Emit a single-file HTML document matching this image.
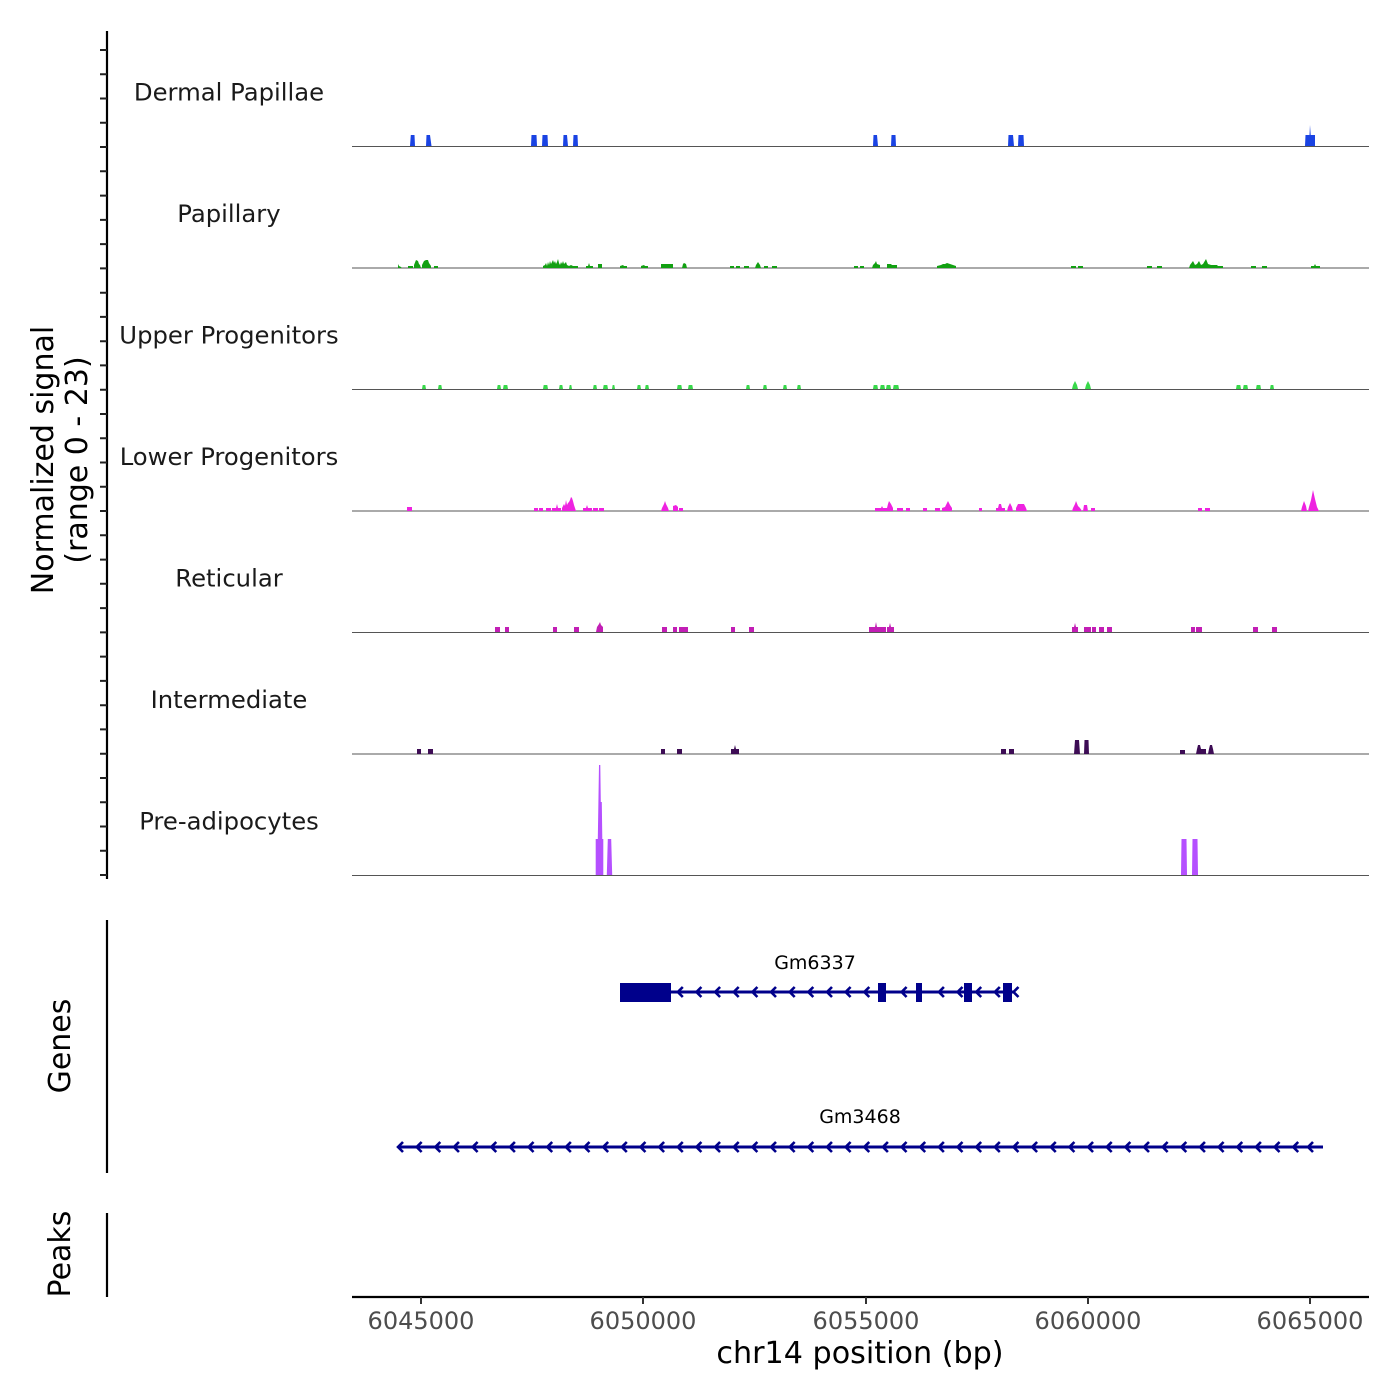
<!DOCTYPE html>
<html>
<head>
<meta charset="utf-8">
<style>
html,body{margin:0;padding:0;background:#fff;}
svg{display:block;}
text{font-family:"DejaVu Sans","Liberation Sans",sans-serif;}
</style>
</head>
<body>
<svg width="1400" height="1400" viewBox="0 0 1400 1400" xmlns="http://www.w3.org/2000/svg">
<rect width="1400" height="1400" fill="#fff"/>

<!-- left axis (signal) -->
<line x1="107" y1="31" x2="107" y2="879" stroke="#000" stroke-width="2.2"/>
<path stroke="#222" stroke-width="2" fill="none" d="
M100,50H107 M100,74.3H107 M100,98.5H107 M100,122.8H107 M100,147H107 M100,171.3H107 M100,195.6H107 M100,219.9H107 M100,244.1H107 M100,268.4H107
M100,292.7H107 M100,316.9H107 M100,341.2H107 M100,365.4H107 M100,389.7H107 M100,414H107 M100,438.2H107 M100,462.5H107 M100,486.8H107 M100,511H107
M100,535.3H107 M100,559.6H107 M100,583.8H107 M100,608.1H107 M100,632.4H107 M100,656.6H107 M100,680.9H107 M100,705.2H107 M100,729.4H107 M100,753.7H107
M100,778H107 M100,802.2H107 M100,826.5H107 M100,850.8H107 M100,875H107"/>

<!-- y title -->
<text transform="translate(53,460) rotate(-90)" text-anchor="middle" font-size="30" fill="#000">Normalized signal</text>
<text transform="translate(87,460) rotate(-90)" text-anchor="middle" font-size="30" fill="#000">(range 0 - 23)</text>

<!-- track labels -->
<g font-size="24.3" fill="#1a1a1a" text-anchor="middle">
<text x="229" y="100.5">Dermal Papillae</text>
<text x="229" y="222">Papillary</text>
<text x="229" y="343.5">Upper Progenitors</text>
<text x="229" y="465">Lower Progenitors</text>
<text x="229" y="586.5">Reticular</text>
<text x="229" y="708">Intermediate</text>
<text x="229" y="829.5">Pre-adipocytes</text>
</g>

<!-- baselines -->
<g stroke="#555" stroke-width="1">
<line x1="352" y1="146.5" x2="1369" y2="146.5"/>
<line x1="352" y1="268" x2="1369" y2="268"/>
<line x1="352" y1="389.5" x2="1369" y2="389.5"/>
<line x1="352" y1="511" x2="1369" y2="511"/>
<line x1="352" y1="632.5" x2="1369" y2="632.5"/>
<line x1="352" y1="754" x2="1369" y2="754"/>
<line x1="352" y1="875.5" x2="1369" y2="875.5"/>
</g>

<!-- Dermal Papillae -->
<path fill="#1a43e3" d="
M410,146 L410.8,135 L414.5,135 L415,146 Z
M426,146 L426.5,135 L430,135 L431.5,146 Z
M531,146 L531.5,135 L536.5,135 L537,146 Z
M542,146 L542.5,135 L547.5,135 L548,146 Z
M563,146 L563.5,135 L567,135 L568,146 Z
M573,146 L573.5,135 L577.5,135 L578,146 Z
M873,146 L873.5,135 L877,135 L878,146 Z
M891,146 L891.5,135 L895.5,135 L896,146 Z
M1008,146 L1008.5,135 L1013,135 L1014,146 Z
M1018,146 L1018.5,135 L1023.5,135 L1024,146 Z
M1305,146 L1305.5,135 L1309.5,135 L1310,125 L1310.7,135 L1315,135 L1315,146 Z"/>

<!-- Papillary -->
<path fill="#12a012" d="
M398,268 L398,264 L399,266 L401,267 L402,268 Z
M408,268 L408,266 L413,266 L413,268 Z
M414,268 L414,265 L416,260 L418,261 L419,264 L420,265 L421,268 Z
M422,268 L422,265 L424,261 L426,260 L428,260 L429,263 L431,266 L431,268 Z
M434,268 L434,266 L438,266 L438,268 Z
M543,268 L543,266 L545,265 L546,263 L547,266 L548,262 L549,265 L550,261 L551,264 L552,262 L553,260 L554,263 L555,261 L556,264 L557,262 L558,259 L559,263 L560,265 L561,262 L562,264 L563,261 L564,264 L566,262 L567,265 L569,266 L571,265 L573,266 L578,266 L578,268 Z
M586,268 L586,266 L588,266 L589,263 L590,266 L593,266 L593,268 Z
M598,268 L598,264 L602,264 L602,268 Z
M620,268 L620,266 L623,265 L624,266 L627,266 L627,268 Z
M641,268 L641,266 L644,265 L645,266 L648,266 L648,268 Z
M661,268 L661,264 L673,264 L673,268 Z
M682,268 L683,264 L684,263 L686,264 L687,268 Z
M730,268 L730,266 L734,266 L734,268 Z
M736,268 L736,266 L740,266 L740,268 Z
M744,268 L744,266 L749,266 L749,268 Z
M755,268 L756,265 L758,262 L760,265 L761,268 Z
M764,268 L764,266 L768,266 L768,268 Z
M772,268 L772,266 L777,266 L777,268 Z
M854,268 L854,266 L858,266 L858,268 Z
M860,268 L860,266 L864,266 L864,268 Z
M872,268 L873,265 L875,263 L876,261 L877,264 L880,265 L880,268 Z
M887,268 L887,264 L891,264 L892,265 L897,265 L897,268 Z
M937,268 L937,266 L941,265 L943,264 L945,264 L947,263 L950,264 L953,265 L956,266 L956,268 Z
M1071,268 L1071,266 L1076,266 L1076,268 Z
M1078,268 L1078,266 L1083,266 L1083,268 Z
M1147,268 L1147,266 L1152,266 L1152,268 Z
M1157,268 L1157,266 L1162,266 L1162,268 Z
M1189,268 L1190,265 L1193,261 L1195,265 L1197,264 L1199,261 L1201,265 L1203,264 L1206,259 L1208,264 L1211,265 L1217,265 L1218,266 L1223,266 L1223,268 Z
M1251,268 L1251,266 L1256,266 L1256,268 Z
M1262,268 L1262,266 L1267,266 L1267,268 Z
M1311,268 L1311,266 L1314,266 L1315,264 L1316,266 L1320,266 L1320,268 Z"/>

<!-- Upper Progenitors -->
<path fill="#38d84a" d="
M422,389 L422.7,385 L425.3,385 L426,389 Z
M438,389 L438.7,385 L441.3,385 L442,389 Z
M497,389 L497.7,385 L500.3,385 L501,389 Z
M503,389 L503.7,385 L507.3,385 L508,389 Z
M543,389 L543.7,385 L547.3,385 L548,389 Z
M559,389 L559.7,385 L562.3,385 L563,389 Z
M569,389 L569.7,385 L571.3,385 L572,389 Z
M593,389 L593.7,385 L596.3,385 L597,389 Z
M603,389 L603.7,385 L607.3,385 L608,389 Z
M612,389 L612.7,385 L614.3,385 L615,389 Z
M637,389 L637.7,385 L640.3,385 L641,389 Z
M645,389 L645.7,385 L648.3,385 L649,389 Z
M677,389 L677.7,385 L681.3,385 L682,389 Z
M688,389 L688.7,385 L692.3,385 L693,389 Z
M746,389 L746.7,385 L749.3,385 L750,389 Z
M763,389 L763.7,385 L766.3,385 L767,389 Z
M783,389 L783.7,385 L786.3,385 L787,389 Z
M797,389 L797.7,385 L800.3,385 L801,389 Z
M873,389 L873.7,385 L877.3,385 L878,389 Z
M880,389 L880.7,385 L884.3,385 L885,389 Z
M886,389 L886.7,385 L890.3,385 L891,389 Z
M893,389 L893.7,385 L898.3,385 L899,389 Z
M1072,389 L1073,385 L1075,381 L1077,385 L1078,389 Z
M1085,389 L1086,385 L1088,381 L1090,385 L1091,389 Z
M1236,389 L1236.7,385 L1240.3,385 L1241,389 Z
M1243,389 L1243.7,385 L1247.3,385 L1248,389 Z
M1256,389 L1256.7,385 L1260.3,385 L1261,389 Z
M1270,389 L1270.7,385 L1273.3,385 L1274,389 Z"/>

<!-- Lower Progenitors -->
<path fill="#ee22e0" d="
M407,511 L407,507 L412,507 L412,511 Z
M534,511 L534,508 L538,508 L538,511 Z
M539,511 L539,508 L543,508 L543,511 Z
M546,511 L546,508 L551,508 L551,511 Z
M552,511 L552,508 L556,508 L557,504 L558,508 L561,508 L561,511 Z
M562,511 L562,508 L564,504 L565,506 L566,500 L567,505 L568,503 L569,502 L570,500 L571,497 L572,498 L573,501 L574,505 L575,508 L576,511 Z
M583,511 L583,508 L586,508 L587,505 L588,508 L592,508 L592,511 Z
M593,511 L593,508 L598,508 L598,511 Z
M599,511 L599,508 L604,508 L604,511 Z
M661,511 L662,508 L664,504 L665,501 L666,504 L668,508 L669,511 Z
M673,511 L673,506 L676,505 L678,507 L678,511 Z
M679,511 L679,508 L683,508 L683,511 Z
M875,511 L875,508 L881,508 L882,506 L883,508 L887,508 L888,504 L889,501 L891,504 L893,508 L893,511 Z
M897,511 L897,508 L903,508 L903,511 Z
M906,511 L906,508 L910,508 L910,511 Z
M923,511 L923,508 L927,508 L927,511 Z
M935,511 L935,508 L940,508 L940,511 Z
M942,511 L942,508 L945,507 L947,503 L948,501 L950,505 L952,508 L952,511 Z
M979,511 L979,508 L982,508 L982,511 Z
M996,511 L996,508 L998,508 L999,504 L1001,504 L1002,508 L1005,508 L1005,511 Z
M1007,511 L1008,507 L1010,503 L1012,507 L1013,511 Z
M1016,511 L1016,508 L1018,504 L1024,504 L1026,508 L1027,511 Z
M1072,511 L1073,508 L1075,504 L1076,501 L1078,506 L1080,508 L1082,511 Z
M1083,511 L1084,505 L1087,505 L1088,511 Z
M1091,511 L1091,508 L1095,508 L1095,511 Z
M1198,511 L1198,508 L1202,508 L1202,511 Z
M1205,511 L1205,508 L1210,508 L1210,511 Z
M1301,511 L1302,507 L1304,501 L1306,506 L1307,511 Z
M1308,511 L1309,507 L1311,500 L1313,490 L1315,499 L1317,507 L1319,511 Z"/>

<!-- Reticular -->
<path fill="#c21eb5" d="
M495,632 L495,627 L500,627 L500,632 Z
M505,632 L505,627 L509,627 L509,632 Z
M553,632 L553,627 L557,627 L557,632 Z
M574,632 L574,627 L579,627 L579,632 Z
M596,632 L597,627 L599,624 L600,622 L601,625 L603,627 L603,632 Z
M662,632 L662,627 L667,627 L667,632 Z
M673,632 L673,627 L677,627 L677,632 Z
M679,632 L679,627 L688,627 L688,632 Z
M731,632 L731,627 L735,627 L735,632 Z
M749,632 L749,627 L754,627 L754,632 Z
M869,632 L869,627 L875,627 L876,622 L877,627 L886,627 L886,632 Z
M887,632 L887,627 L889,627 L890,623 L891,627 L894,627 L894,632 Z
M1072,632 L1072,627 L1074,627 L1075,623 L1076,627 L1078,627 L1078,632 Z
M1084,632 L1084,627 L1091,627 L1091,632 Z
M1092,632 L1092,627 L1096,627 L1096,632 Z
M1099,632 L1099,627 L1104,627 L1104,632 Z
M1107,632 L1107,627 L1112,627 L1112,632 Z
M1191,632 L1191,627 L1195,627 L1195,632 Z
M1196,632 L1196,627 L1202,627 L1202,632 Z
M1253,632 L1253,627 L1258,627 L1258,632 Z
M1272,632 L1272,627 L1277,627 L1277,632 Z"/>

<!-- Intermediate -->
<path fill="#3d0c55" d="
M417,754 L417,749 L421,749 L421,754 Z
M428,754 L428,749 L433,749 L433,754 Z
M661,754 L661,749 L665,749 L665,754 Z
M677,754 L677,749 L682,749 L682,754 Z
M731,754 L731,749 L734,749 L735,745 L736,749 L739,749 L739,754 Z
M1001,754 L1001,749 L1006,749 L1006,754 Z
M1009,754 L1009,749 L1014,749 L1014,754 Z
M1074,754 L1075,740 L1079,740 L1080,754 Z
M1084,754 L1084.5,740 L1088.5,740 L1089,754 Z
M1180,754 L1180,750 L1185,750 L1185,754 Z
M1196,754 L1197,749 L1198,745 L1200,745 L1201,749 L1206,749 L1206,754 Z
M1208,754 L1209,749 L1210,745 L1212,745 L1213,749 L1214,754 Z"/>

<!-- Pre-adipocytes -->
<path fill="#b550ff" d="
M595.7,875 L595.7,839 L597.8,839 L599,765 L600.3,765 L600.8,802 L601.8,802 L602.3,839 L603.3,839 L603.3,875 Z
M606.8,875 L607.8,839 L611.2,839 L612.2,875 Z
M1181,875 L1181.5,839 L1186.5,839 L1187,875 Z
M1192,875 L1192.5,839 L1197.5,839 L1198,875 Z"/>

<!-- Genes axis -->
<line x1="107" y1="920" x2="107" y2="1173" stroke="#000" stroke-width="2.2"/>
<text transform="translate(70,1046) rotate(-90)" text-anchor="middle" font-size="30" fill="#000">Genes</text>

<!-- Gm6337 -->
<text x="815" y="969" text-anchor="middle" font-size="19" fill="#000">Gm6337</text>
<line x1="620" y1="992" x2="1015" y2="992" stroke="#00008b" stroke-width="3"/>
<g fill="#00008b">
<rect x="620" y="983" width="51" height="19"/>
<rect x="878" y="983" width="8" height="19"/>
<rect x="916" y="983" width="6" height="19"/>
<rect x="964" y="983" width="8" height="19"/>
<rect x="1003" y="983" width="9" height="19"/>
</g>
<path fill="none" stroke="#00008b" stroke-width="2.6" stroke-linejoin="miter" d="
M682.8,987 L677.8,992 L682.8,997
M701.4,987 L696.4,992 L701.4,997
M720.1,987 L715.1,992 L720.1,997
M738.7,987 L733.7,992 L738.7,997
M757.4,987 L752.4,992 L757.4,997
M776,987 L771,992 L776,997
M794.7,987 L789.7,992 L794.7,997
M813.3,987 L808.3,992 L813.3,997
M832,987 L827,992 L832,997
M850.6,987 L845.6,992 L850.6,997
M869.3,987 L864.3,992 L869.3,997
M906.6,987 L901.6,992 L906.6,997
M943.9,987 L938.9,992 L943.9,997
M962.5,987 L957.5,992 L962.5,997
M981.2,987 L976.2,992 L981.2,997
M999.8,987 L994.8,992 L999.8,997
M1018.5,987 L1013.5,992 L1018.5,997"/>

<!-- Gm3468 -->
<text x="860" y="1123" text-anchor="middle" font-size="19" fill="#000">Gm3468</text>
<line x1="398" y1="1147" x2="1323" y2="1147" stroke="#00008b" stroke-width="3"/>
<path fill="none" stroke="#00008b" stroke-width="2.6" d="
M403,1142 l-5,5 l5,5 M421.65,1142 l-5,5 l5,5 M440.3,1142 l-5,5 l5,5 M458.95,1142 l-5,5 l5,5 M477.6,1142 l-5,5 l5,5
M496.25,1142 l-5,5 l5,5 M514.9,1142 l-5,5 l5,5 M533.55,1142 l-5,5 l5,5 M552.2,1142 l-5,5 l5,5 M570.85,1142 l-5,5 l5,5
M589.5,1142 l-5,5 l5,5 M608.15,1142 l-5,5 l5,5 M626.8,1142 l-5,5 l5,5 M645.45,1142 l-5,5 l5,5 M664.1,1142 l-5,5 l5,5
M682.75,1142 l-5,5 l5,5 M701.4,1142 l-5,5 l5,5 M720.05,1142 l-5,5 l5,5 M738.7,1142 l-5,5 l5,5 M757.35,1142 l-5,5 l5,5
M776,1142 l-5,5 l5,5 M794.65,1142 l-5,5 l5,5 M813.3,1142 l-5,5 l5,5 M831.95,1142 l-5,5 l5,5 M850.6,1142 l-5,5 l5,5
M869.25,1142 l-5,5 l5,5 M887.9,1142 l-5,5 l5,5 M906.55,1142 l-5,5 l5,5 M925.2,1142 l-5,5 l5,5 M943.85,1142 l-5,5 l5,5
M962.5,1142 l-5,5 l5,5 M981.15,1142 l-5,5 l5,5 M999.8,1142 l-5,5 l5,5 M1018.45,1142 l-5,5 l5,5 M1037.1,1142 l-5,5 l5,5
M1055.75,1142 l-5,5 l5,5 M1074.4,1142 l-5,5 l5,5 M1093.05,1142 l-5,5 l5,5 M1111.7,1142 l-5,5 l5,5 M1130.35,1142 l-5,5 l5,5
M1149,1142 l-5,5 l5,5 M1167.65,1142 l-5,5 l5,5 M1186.3,1142 l-5,5 l5,5 M1204.95,1142 l-5,5 l5,5 M1223.6,1142 l-5,5 l5,5
M1242.25,1142 l-5,5 l5,5 M1260.9,1142 l-5,5 l5,5 M1279.55,1142 l-5,5 l5,5 M1298.2,1142 l-5,5 l5,5 M1313,1142 l-5,5 l5,5"/>

<!-- Peaks axis -->
<line x1="107" y1="1213" x2="107" y2="1297" stroke="#000" stroke-width="2.2"/>
<text transform="translate(70,1254) rotate(-90)" text-anchor="middle" font-size="30" fill="#000">Peaks</text>

<!-- x axis -->
<line x1="352" y1="1297" x2="1369" y2="1297" stroke="#000" stroke-width="2.2"/>
<path stroke="#333" stroke-width="2" d="M421,1297V1304 M643,1297V1304 M866,1297V1304 M1088,1297V1304 M1310,1297V1304"/>
<g font-size="24" fill="#4d4d4d" text-anchor="middle">
<text x="421" y="1329">6045000</text>
<text x="643" y="1329">6050000</text>
<text x="866" y="1329">6055000</text>
<text x="1088" y="1329">6060000</text>
<text x="1310" y="1329">6065000</text>
</g>
<text x="860" y="1363" text-anchor="middle" font-size="30.2" fill="#000">chr14 position (bp)</text>
</svg>
</body>
</html>
